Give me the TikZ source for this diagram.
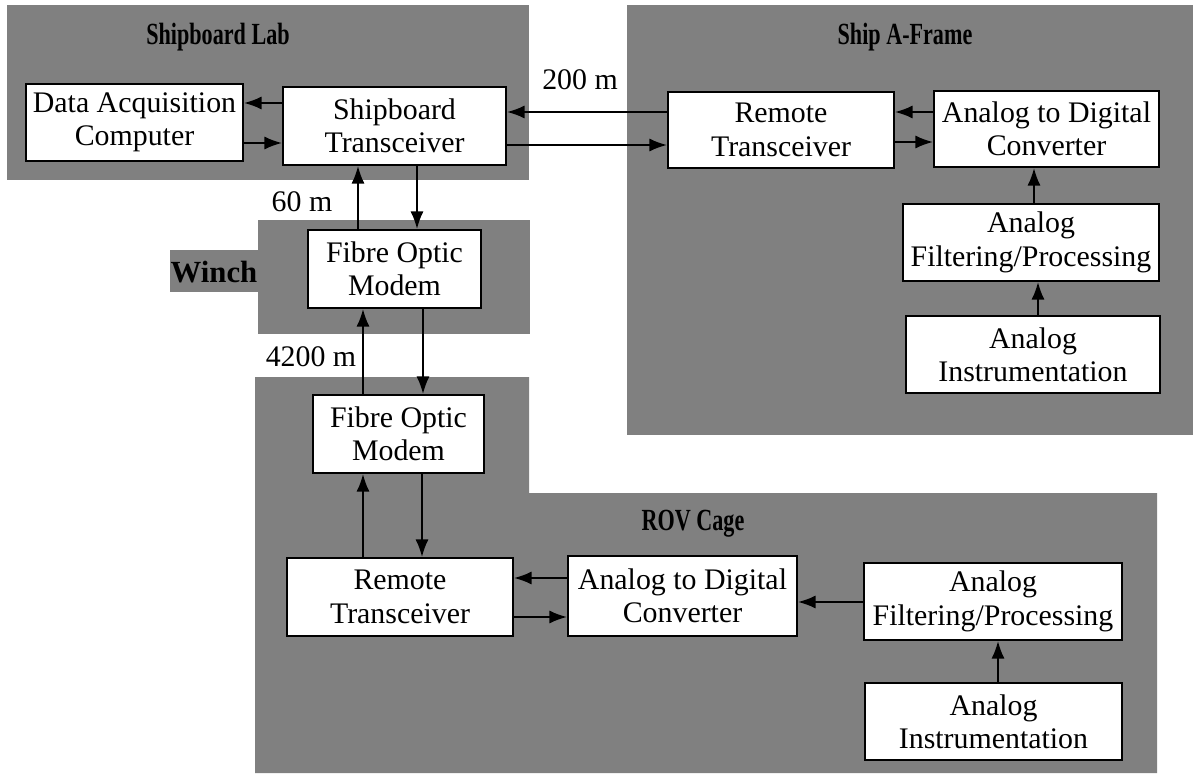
\documentclass[tikz,border=0pt]{standalone}
\usepackage{fontspec}
\setmainfont{Liberation Serif}
\usetikzlibrary{arrows.meta}

\newcommand{\squeeze}[1]{\scalebox{0.72}[1]{#1}}

\tikzset{
    block/.style={draw, line width=1.3pt, fill=white, align=center, inner sep=0pt,
        font=\fontsize{17}{19}\selectfont},
    region/.style={fill=black!50},
    regtitle/.style={font=\fontsize{17.5}{17.5}\bfseries\selectfont},
    dist/.style={font=\fontsize{17}{19}\selectfont},
    arr/.style={-{Latex[length=10pt,width=7.5pt]}, line width=1pt},
}

\begin{document}
\begin{tikzpicture}[x=0.02cm, y=-0.02cm]
    \useasboundingbox (0,0) rectangle (1198,777);

    % Shaded areas
    \fill[region] (7,5) rectangle (529,180);
    \fill[region] (627,5) rectangle (1193,435);
    \fill[region] (258,220) rectangle (530,334);
    \fill[region] (170,250) rectangle (258,292);
    \fill[region] (255,377) -- (529,377) -- (529,493) -- (1157,493) -- (1157,773) -- (255,773) -- cycle;

    \node[regtitle] (labtitle) at (218,37) {\squeeze{Shipboard Lab}};
    \node[regtitle] (frametitle) at (905,37) {\squeeze{Ship A-Frame}};
    \node[regtitle] (winchtitle) at (214,272) {Winch};
    \node[regtitle] (rovtitle) at (693,524) {\squeeze{ROV Cage}};

    % Shipboard lab
    \node[block, minimum width=4.34cm, minimum height=1.54cm] (dac) at (134.5,122.5) {Data Acquisition\\Computer};
    \node[block, minimum width=4.46cm, minimum height=1.56cm] (stx) at (394.5,126) {Shipboard\\Transceiver};

    % Ship A-frame
    \node[block, minimum width=4.52cm, minimum height=1.52cm] (rtxa) at (781,130) {Remote\\Transceiver};
    \node[block, minimum width=4.5cm, minimum height=1.52cm] (adca) at (1046.5,129) {Analog to Digital\\Converter};
    \node[block, minimum width=5.12cm, minimum height=1.54cm] (afpa) at (1031,242.5) {Analog\\Filtering/Processing};
    \node[block, minimum width=5.08cm, minimum height=1.54cm] (aia) at (1033,354.5) {Analog\\Instrumentation};

    % Winch and modems
    \node[block, minimum width=3.46cm, minimum height=1.56cm] (foma) at (394.5,269) {Fibre Optic\\Modem};
    \node[block, minimum width=3.42cm, minimum height=1.56cm] (fomb) at (398.5,434) {Fibre Optic\\Modem};

    % ROV cage
    \node[block, minimum width=4.52cm, minimum height=1.56cm] (rtxb) at (400,597) {Remote\\Transceiver};
    \node[block, minimum width=4.58cm, minimum height=1.6cm] (adcb) at (682.5,596) {Analog to Digital\\Converter};
    \node[block, minimum width=5.16cm, minimum height=1.54cm] (afpb) at (993,601.5) {Analog\\Filtering/Processing};
    \node[block, minimum width=5.14cm, minimum height=1.54cm] (aib) at (993.5,721.5) {Analog\\Instrumentation};

    % Cable lengths
    \node[dist] (len200) at (580,80) {200 m};
    \node[dist] (len60) at (302,202) {60 m};
    \node[dist] (len4200) at (311,357) {4200 m};

    % Links
    \draw[arr] (stx.west |- 0,103) -- (dac.east |- 0,103);
    \draw[arr] (dac.east |- 0,143) -- (stx.west |- 0,143);
    \draw[arr] (rtxa.west |- 0,112) -- (stx.east |- 0,112);
    \draw[arr] (stx.east |- 0,145) -- (rtxa.west |- 0,145);
    \draw[arr] (adca.west |- 0,112) -- (rtxa.east |- 0,112);
    \draw[arr] (rtxa.east |- 0,142) -- (adca.west |- 0,142);
    \draw[arr] (afpa.north -| 1034,0) -- (adca.south -| 1034,0);
    \draw[arr] (aia.north -| 1038,0) -- (afpa.south -| 1038,0);

    \draw[arr] (foma.north -| 358,0) -- (stx.south -| 358,0);
    \draw[arr] (stx.south -| 417,0) -- (foma.north -| 417,0);
    \draw[arr] (fomb.north -| 363,0) -- (foma.south -| 363,0);
    \draw[arr] (foma.south -| 423,0) -- (fomb.north -| 423,0);
    \draw[arr] (rtxb.north -| 363,0) -- (fomb.south -| 363,0);
    \draw[arr] (fomb.south -| 422,0) -- (rtxb.north -| 422,0);

    \draw[arr] (adcb.west |- 0,578) -- (rtxb.east |- 0,578);
    \draw[arr] (rtxb.east |- 0,617) -- (adcb.west |- 0,617);
    \draw[arr] (afpb.west |- 0,602) -- (adcb.east |- 0,602);
    \draw[arr] (aib.north -| 998,0) -- (afpb.south -| 998,0);
\end{tikzpicture}
\end{document}
